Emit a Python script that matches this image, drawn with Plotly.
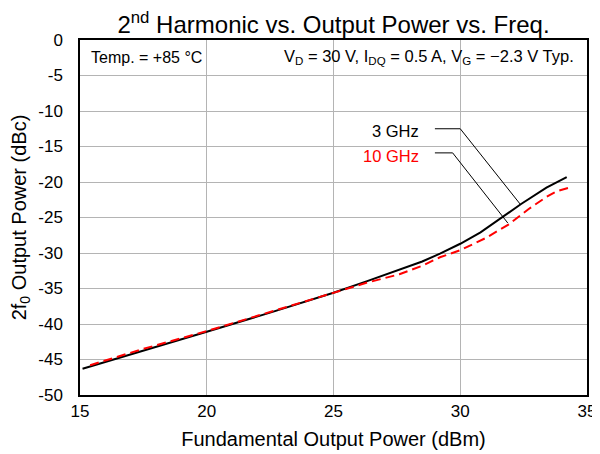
import plotly.graph_objects as go

# Data
x_3ghz = [15.1, 17.5, 20.0, 22.5, 25.0, 26.3, 27.6, 28.5, 29.2, 30.0, 30.8, 31.65, 32.4, 33.4, 34.2]
y_3ghz = [-46.3, -43.7, -41.1, -38.4, -35.6, -34.0, -32.4, -31.2, -30.1, -28.7, -27.1, -25.0, -23.1, -20.8, -19.3]

x_10ghz = [15.4, 17.5, 20.0, 22.5, 25.0, 26.3, 27.6, 28.5, 29.2, 30.0, 31.0, 31.9, 32.7, 33.4, 33.8, 34.3]
y_10ghz = [-45.8, -43.5, -41.0, -38.3, -35.6, -34.2, -33.0, -31.8, -30.6, -29.6, -27.9, -26.0, -23.8, -22.1, -21.3, -20.8]

series_names = ["3 GHz", "10 GHz"]
series_colors = ["#000000", "#ff0000"]

# leader lines from labels to curves (data coordinates)
leader_3_x = [29.0, 30.0, 32.36]
leader_3_y = [-12.5, -12.5, -23.1]
leader_10_x = [29.0, 29.7, 31.88]
leader_10_y = [-15.9, -15.9, -25.8]

x_ticks = [15, 20, 25, 30, 35]
x_tick_labels = ["15", "20", "25", "30", "35"]
y_ticks = [0, -5, -10, -15, -20, -25, -30, -35, -40, -45, -50]
y_tick_labels = ["0", "-5", "-10", "-15", "-20", "-25", "-30", "-35", "-40", "-45", "-50"]

FONT = "Liberation Sans, Arial, sans-serif"

# The page body adds an 8 px offset; the figure is sized to fill the rest of the 600x454 window.
W, H = 592, 446

fig = go.Figure()
fig.add_trace(go.Scatter(x=x_3ghz, y=y_3ghz, mode="lines", line=dict(color=series_colors[0], width=2), name=series_names[0], showlegend=False))
fig.add_trace(go.Scatter(x=x_10ghz, y=y_10ghz, mode="lines", line=dict(color=series_colors[1], width=2, dash="9px,5px"), name=series_names[1], showlegend=False))
fig.add_trace(go.Scatter(x=leader_3_x, y=leader_3_y, mode="lines", line=dict(color="black", width=1), showlegend=False, hoverinfo="skip"))
fig.add_trace(go.Scatter(x=leader_10_x, y=leader_10_y, mode="lines", line=dict(color="black", width=1), showlegend=False, hoverinfo="skip"))

fig.add_annotation(x=28.45, y=-12.8, text=series_names[0], showarrow=False, xanchor="right", yanchor="middle", font=dict(family=FONT, size=16.5, color=series_colors[0]))
fig.add_annotation(x=28.45, y=-16.3, text=series_names[1], showarrow=False, xanchor="right", yanchor="middle", font=dict(family=FONT, size=16.5, color=series_colors[1]))

fig.add_annotation(x=0.017, y=-2.45, xref="paper", yref="y", text="Temp. = +85 °C", showarrow=False, xanchor="left", yanchor="middle", font=dict(family=FONT, size=16, color="black"))
fig.add_annotation(x=0.978, y=-2.45, xref="paper", yref="y", text="V<sub>D</sub> = 30 V, I<sub>DQ</sub> = 0.5 A, V<sub>G</sub> = −2.3 V Typ.", showarrow=False, xanchor="right", yanchor="middle", font=dict(family=FONT, size=16.5, color="black"))

fig.update_layout(
    width=W, height=H,
    margin=dict(l=72, r=13, t=32, b=59),
    paper_bgcolor="white", plot_bgcolor="white",
    font=dict(family=FONT, color="black"),
    title=dict(text="2<sup>nd</sup> Harmonic vs. Output Power vs. Freq.", xref="paper", x=0.5, xanchor="center", y=1 - 17 / H, yanchor="middle", font=dict(family=FONT, size=24, color="black")),
)
fig.update_xaxes(range=[15, 35], tickvals=x_ticks, ticktext=x_tick_labels, showgrid=True, gridcolor="#b4b4b4", gridwidth=1,
                 showline=True, linecolor="black", linewidth=1.5, mirror=True, ticks="", automargin=False,
                 tickfont=dict(size=17), title=dict(text="Fundamental Output Power (dBm)", font=dict(size=20), standoff=12), zeroline=False)
fig.update_yaxes(range=[-50, 0], tickvals=y_ticks, ticktext=y_tick_labels, showgrid=True, gridcolor="#b4b4b4", gridwidth=1,
                 showline=True, linecolor="black", linewidth=1.5, mirror=True, ticks="", automargin=False,
                 ticklabelstandoff=12,
                 tickfont=dict(size=17), title=dict(text="2f<sub>0</sub> Output Power (dBc)", font=dict(size=20), standoff=6), zeroline=False)

fig.write_html("out.html")
